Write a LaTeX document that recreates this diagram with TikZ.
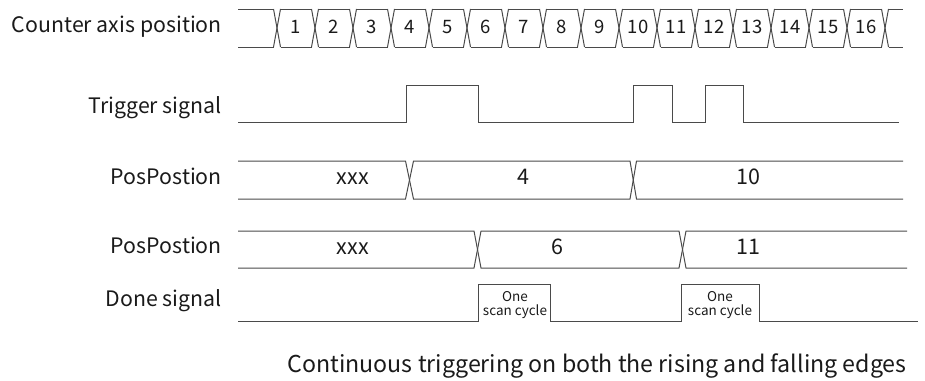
\documentclass[tikz,border=0pt]{standalone}
\usepackage{fontspec}
\setmainfont{Noto Sans CJK SC}
\definecolor{linecol}{HTML}{4A4A4A}
\definecolor{txtcol}{HTML}{1A1A1A}
\begin{document}
\begin{tikzpicture}[x=1pt,y=-1pt,
  sig/.style={draw=linecol,line width=1pt,line join=miter},
  lbl/.style={anchor=base east,inner sep=0pt,font=\fontsize{21.3}{25}\selectfont,text=txtcol},
  num/.style={anchor=base,inner sep=0pt,font=\fontsize{18.5}{22}\selectfont,text=txtcol},
  val/.style={anchor=base,inner sep=0pt,font=\fontsize{21.5}{25}\selectfont,text=txtcol},
  small/.style={align=center,inner sep=0pt,font=\fontsize{13.5}{14.5}\selectfont,text=txtcol},
  captxt/.style={anchor=base,inner sep=0pt,font=\fontsize{23.2}{27}\selectfont,text=txtcol}]
\useasboundingbox (0,0) rectangle (925,380);

% ---------- labels ----------
\node[lbl] (l1) at (222,32) {Counter axis position};
\node[lbl] (l2) at (222,113) {Trigger signal};
\node[lbl] (l3) at (222,184) {PosPostion};
\node[lbl] (l4) at (222,253) {PosPostion};
\node[lbl] (l5) at (222,306) {Done signal};

% ---------- counter axis bus ----------
\def\ct{9}\def\cb{47}\def\h{3.5}
\draw[sig] (238,\ct) -- (277-\h,\ct);
\draw[sig] (238,\cb) -- (277-\h,\cb);
\foreach \i in {0,...,16}{
  \pgfmathsetmacro{\c}{277+38*\i}
  \draw[sig] (\c-\h,\ct) -- (\c+\h,\cb);
  \draw[sig] (\c-\h,\cb) -- (\c+\h,\ct);
}
\foreach \i in {0,...,15}{
  \pgfmathsetmacro{\a}{277+38*\i+\h}
  \pgfmathsetmacro{\b}{277+38*(\i+1)-\h}
  \draw[sig] (\a,\ct) -- (\b,\ct);
  \draw[sig] (\a,\cb) -- (\b,\cb);
}
\draw[sig] (885+\h,\ct) -- (903,\ct);
\draw[sig] (885+\h,\cb) -- (903,\cb);
\foreach \k in {1,...,16}{
  \pgfmathsetmacro{\m}{277+38*(\k-1)+19}
  \node[num] (n\k) at (\m,33.5) {\k};
}

% ---------- trigger signal ----------
\draw[sig] (238,122.5) -- (406,122.5) -- (406,85) -- (478,85) -- (478,122.5)
  -- (633,122.5) -- (633,85) -- (672,85) -- (672,122.5) -- (705,122.5)
  -- (705,85) -- (743,85) -- (743,122.5) -- (899,122.5);

% ---------- PosPostion 1 ----------
\def\pt{161}\def\pb{199}
\draw[sig] (238,\pt) -- (405.5,\pt) -- (413.5,\pb) -- (630,\pb) -- (636.5,\pt) -- (903,\pt);
\draw[sig] (238,\pb) -- (405.5,\pb) -- (413.5,\pt) -- (630,\pt) -- (636.5,\pb) -- (903,\pb);
\node[val] (v1) at (353,184) {xxx};
\node[val] (v2) at (523,184) {4};
\node[val] (v3) at (748,184) {10};

% ---------- PosPostion 2 ----------
\def\qt{231}\def\qb{268}
\draw[sig] (238,\qt) -- (474,\qt) -- (481,\qb) -- (679,\qb) -- (686,\qt) -- (907,\qt);
\draw[sig] (238,\qb) -- (474,\qb) -- (481,\qt) -- (679,\qt) -- (686,\qb) -- (907,\qb);
\node[val] (w1) at (353,254) {xxx};
\node[val] (w2) at (557,254) {6};
\node[val] (w3) at (748,254) {11};

% ---------- Done signal ----------
\draw[sig] (238,321.5) -- (478.3,321.5) -- (478.3,284) -- (550,284) -- (550,321.5)
  -- (681.7,321.5) -- (681.7,284) -- (759.3,284) -- (759.3,321.5) -- (918,321.5);
\node[small] (d1) at (515,305) {One\\scan cycle};
\node[small] (d2) at (720,305) {One\\scan cycle};

% ---------- caption ----------
\node[captxt] (c) at (597,372) {Continuous triggering on both the rising and falling edges};
\end{tikzpicture}
\end{document}
